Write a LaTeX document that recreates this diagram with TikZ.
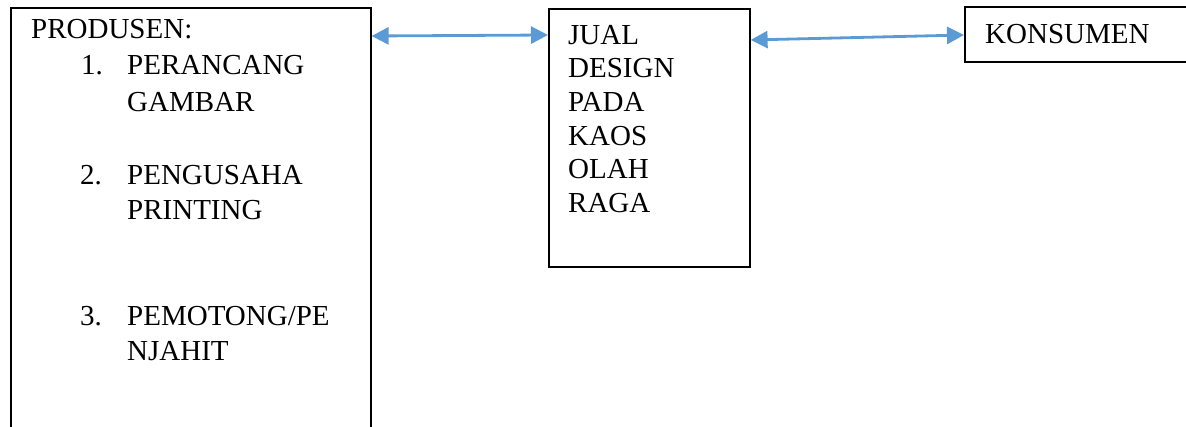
\documentclass[tikz,border=0pt]{standalone}
\usepackage{fontspec}
\setmainfont{Liberation Serif}
\usetikzlibrary{arrows.meta}
\definecolor{linkblue}{HTML}{5B9BD5}
\tikzset{
  box/.style={draw=black, line width=1.6pt, inner sep=0pt},
  txt/.style={anchor=base west, inner sep=0pt, font=\fontsize{29}{33}\selectfont},
  conn/.style={draw=linkblue, line width=2.8pt, {Triangle[length=17pt,width=17pt]}-{Triangle[length=17pt,width=17pt]}}
}
\begin{document}
\begin{tikzpicture}[x=1pt,y=1pt]
\useasboundingbox (0,0) rectangle (1186,-427);
\clip (0,0) rectangle (1186,-427);
% boxes
\node[box, anchor=north west, minimum width=360pt, minimum height=440pt] (prod) at (10,-7) {};
\node[box, anchor=north west, minimum width=201pt, minimum height=258pt] (mid) at (548,-8) {};
\node[box, anchor=north west, minimum width=240pt, minimum height=55pt] (kons) at (964,-6) {};
% texts
\node[txt] (t0) at (31,-39) {PRODUSEN:};
\node[txt] (n1) at (81,-75) {1.};
\node[txt] (t1a) at (127,-75) {PERANCANG};
\node[txt] (t1b) at (127,-112) {GAMBAR};
\node[txt] (n2) at (80,-185) {2.};
\node[txt] (t2a) at (127,-185) {PENGUSAHA};
\node[txt] (t2b) at (127,-220) {PRINTING};
\node[txt] (n3) at (80,-326) {3.};
\node[txt] (t3a) at (127,-326) {PEMOTONG/PE};
\node[txt] (t3b) at (127,-361) {NJAHIT};
\node[txt] (m1) at (568,-45) {JUAL};
\node[txt] (m2) at (568,-78) {DESIGN};
\node[txt] (m3) at (568,-112) {PADA};
\node[txt] (m4) at (568,-146) {KAOS};
\node[txt] (m5) at (568,-179) {OLAH};
\node[txt] (m6) at (568,-213) {RAGA};
\node[txt] (k1) at (985,-44) {KONSUMEN};
% connectors
\draw[conn] ([yshift=-29pt]prod.north east) -- ([yshift=-27pt]mid.north west);
\draw[conn] ([yshift=-32pt]mid.north east) -- ([yshift=-29pt]kons.north west);
\end{tikzpicture}
\end{document}
